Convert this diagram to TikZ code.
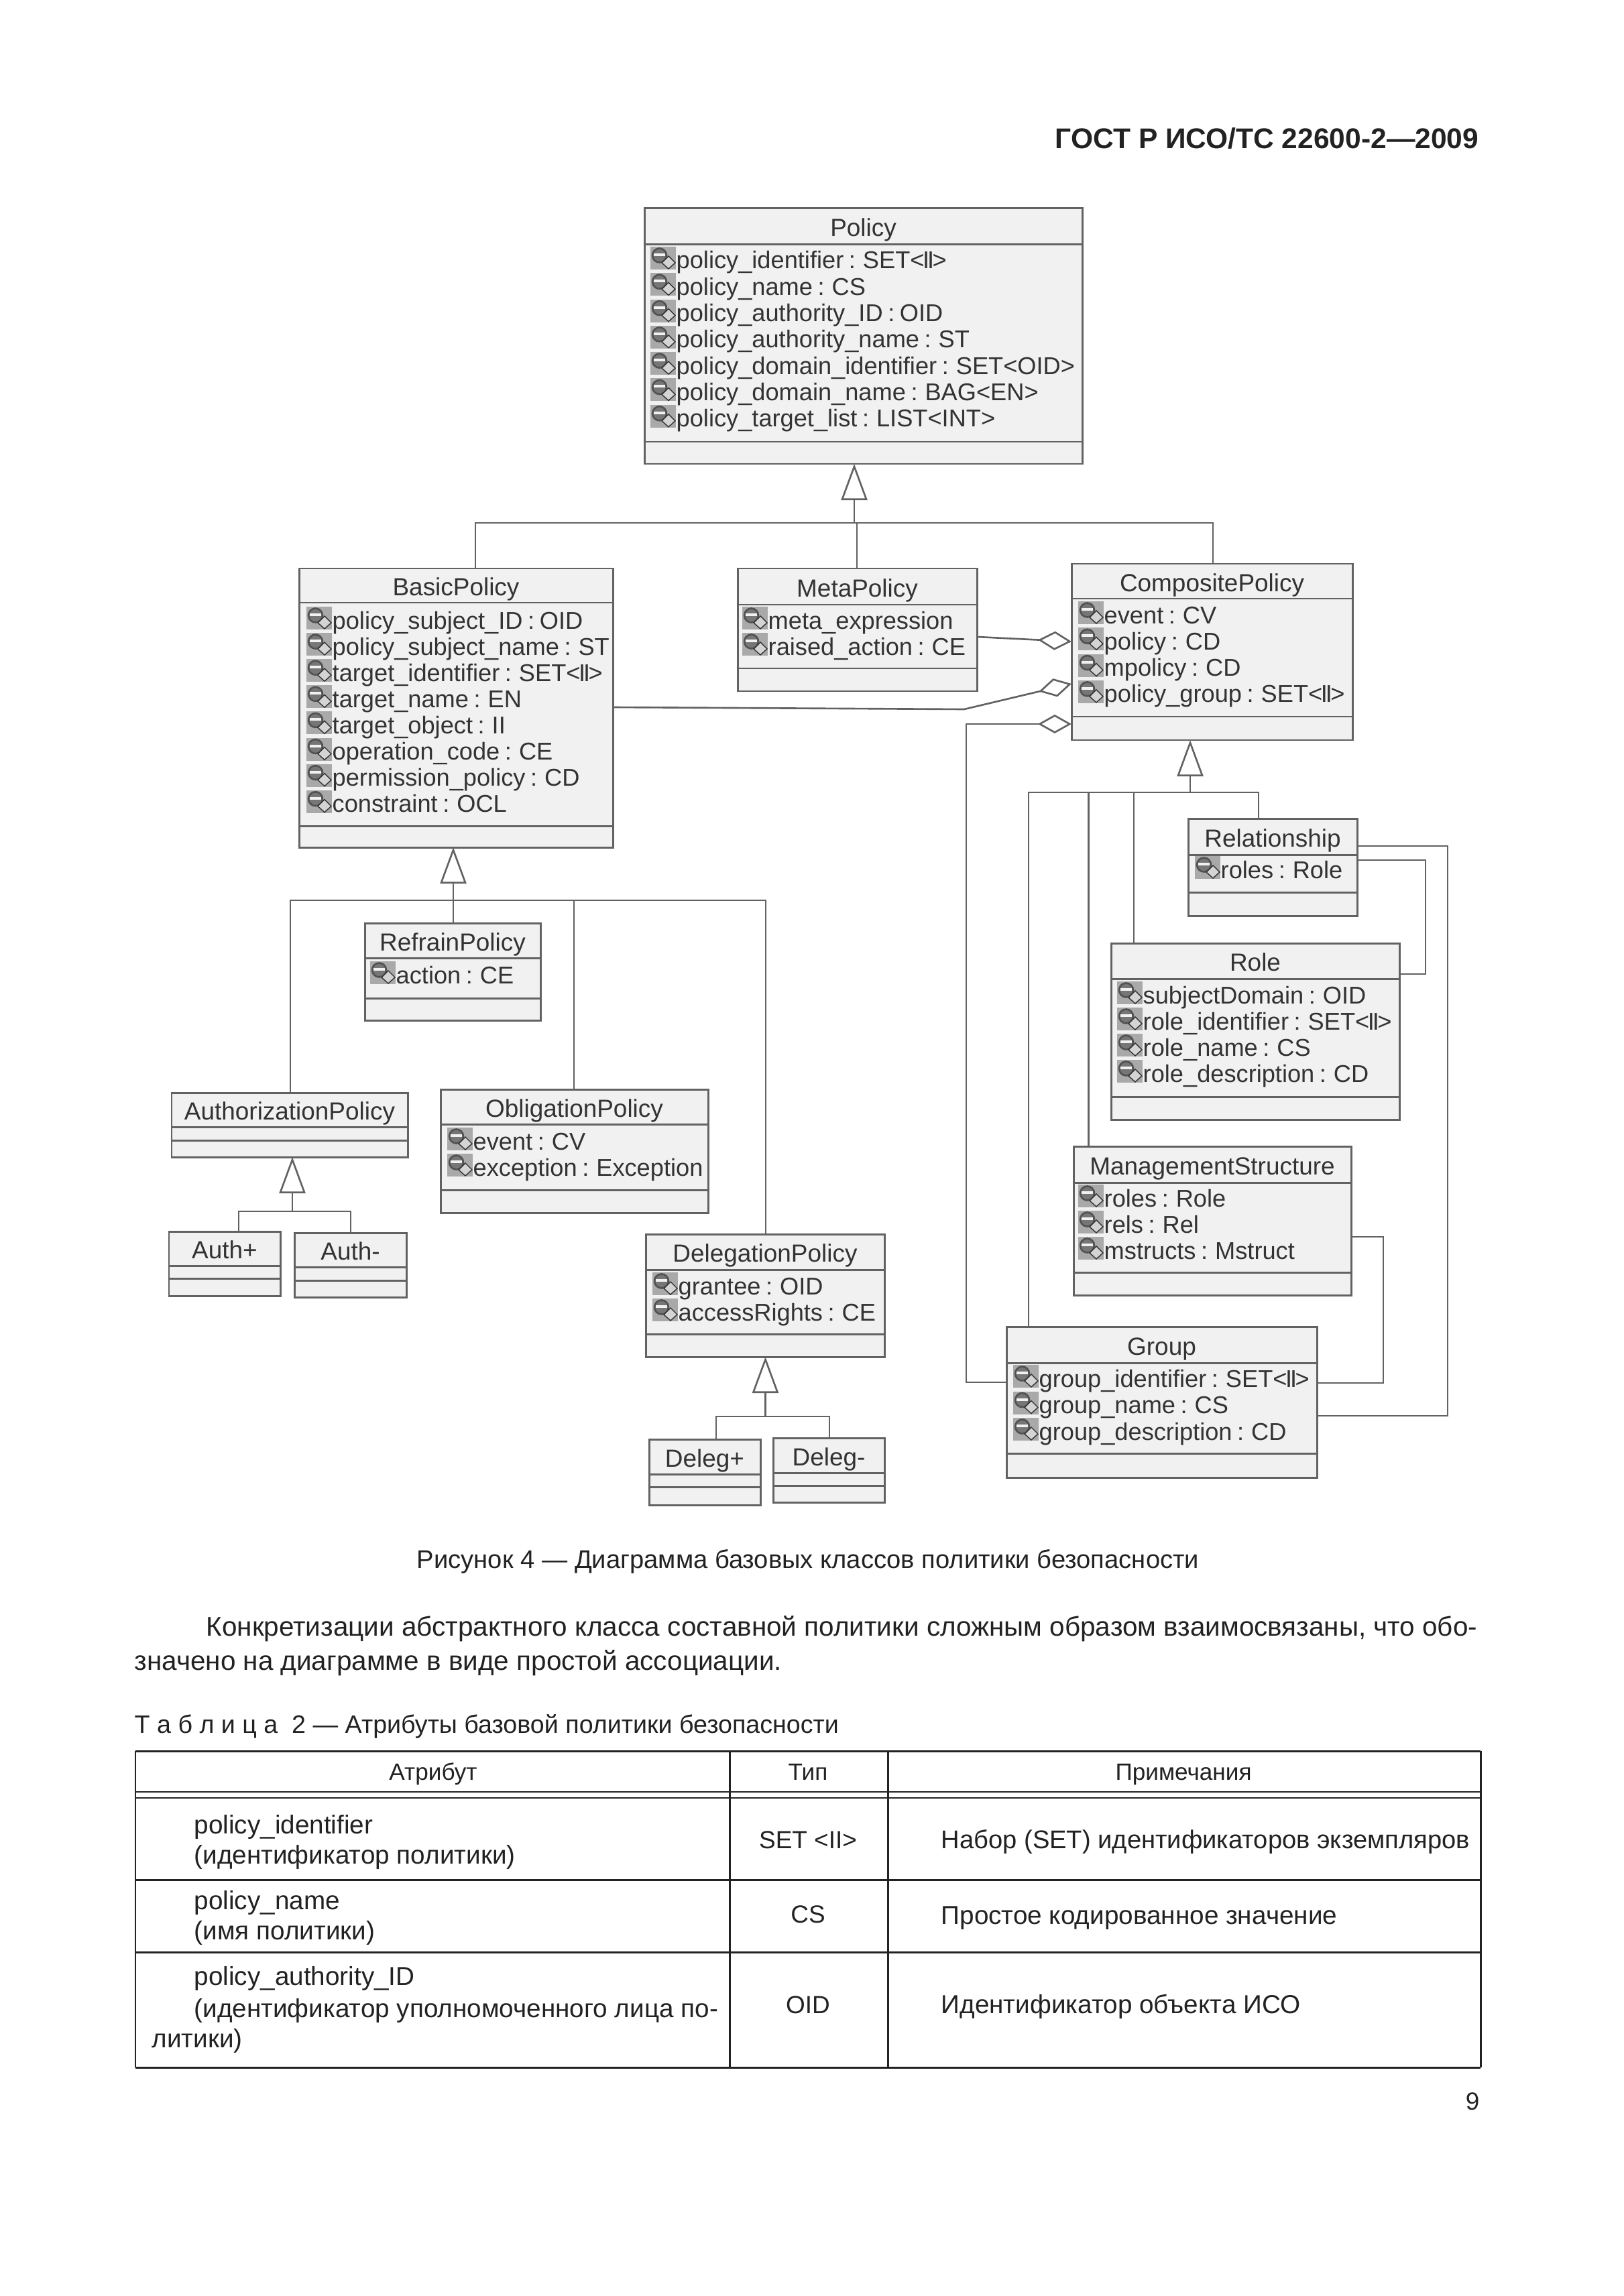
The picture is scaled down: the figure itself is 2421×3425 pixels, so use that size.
\documentclass[tikz,border=0pt]{standalone}
\usepackage{fontspec}
\setmainfont{Liberation Sans}
\usetikzlibrary{arrows.meta,fit}
\definecolor{tline}{HTML}{626262}
\definecolor{tbox}{HTML}{F1F1F1}
\definecolor{tink}{HTML}{333333}
\definecolor{ticon}{HTML}{A9A9A9}
\definecolor{tpage}{HTML}{222222}
\newcommand{\pII}{<\kern-0.7pt I\kern-0.9pt I\kern-0.7pt>}
\newcommand{\tightspace}{\spaceskip=0.21em\relax}
\tikzset{
  classbox/.style={draw=tline, fill=tbox, line width=0.85pt, inner sep=0pt, outer sep=0pt},
  classrule/.style={draw=tline, line width=0.85pt},
  classname/.style={font=\fontsize{10.5}{12}\selectfont, text=tink, anchor=base, inner sep=0pt},
  classattr/.style={font=\fontsize{10.3}{12}\selectfont, text=tink, anchor=base west, inner sep=0pt},
  assoc/.style={draw=tline, line width=0.75pt},
  genline/.style={assoc, -{Triangle[open,length=0.54cm,width=0.39cm]}},
  aggr/.style={assoc, -{Diamond[open,length=0.5cm,width=0.28cm]}},
  pagetext/.style={font=\fontsize{11.5}{14}\selectfont, text=tpage, anchor=base west, inner sep=0pt},
  tabletext/.style={font=\fontsize{11}{14}\selectfont, text=tpage, anchor=base west, inner sep=0pt},
  tablecode/.style={font=\fontsize{10.5}{14}\selectfont, text=tpage, anchor=base, inner sep=0pt},
  tablehead/.style={font=\fontsize{10}{12}\selectfont, text=tpage, anchor=base, inner sep=0pt},
  tablerule/.style={draw=tpage, line width=0.85pt},
  tablethin/.style={draw=tpage, line width=0.5pt},
  lockmark/.pic={
    \fill[ticon] (0,-21) rectangle (38,13);
    \draw[tink!85, line width=0.75pt, fill=ticon!70!black] (13.5,-8) circle [radius=10.5];
    \fill[tbox] (5,-11) rectangle (22,-7);
    \draw[tink, line width=0.4pt, fill=tbox!88!black] (17,3) -- (27,-7) -- (37,3) -- (27,12) -- cycle;
  },
}
% one class: id, x1, y1, x2, y2, name rule, attribute rule, title
\newcommand{\umlclass}[8]{%
  \node[classbox, fit={(#2,#3) (#4,#5)}] (#1) {};
  \draw[classrule] (#1.west |- 0,#6) -- (#1.east |- 0,#6);
  \draw[classrule] (#1.west |- 0,#7) -- (#1.east |- 0,#7);
  \node[classname] (#1-name) at ({(#2+#4)/2},{(#3+#6)/2+15}) {#8};}
% attribute rows: id, icon x, first row y, row step, rows
\newcommand{\classattrs}[5]{%
  \foreach \attr [count=\nn from 0] in {#5} {
    \pic at (#2,{#3+\nn*#4}) {lockmark};
    \node[classattr] (#1-a\nn) at (#2+38,{#3+12+\nn*#4}) {\tightspace\attr};
  }}
\begin{document}
\begin{tikzpicture}[x=0.01cm, y=-0.01cm]
  \useasboundingbox (0,0) rectangle (2421,3425);
  \node[font=\fontsize{12.1}{14}\selectfont\bfseries, text=tpage, anchor=base east, inner sep=0pt] (pagehead) at (2206,222) {ГОСТ Р ИСО/ТС 22600-2---2009};

  % --- classes ---------------------------------------------------------
  \umlclass{policy}{961}{311}{1614}{692}{365}{659}{Policy}
  \classattrs{policy}{970}{389}{39.3}{policy\_identifier : SET\pII,policy\_name : CS,policy\_authority\_ID : OID,policy\_authority\_name : ST,policy\_domain\_identifier : SET<OID>,policy\_domain\_name : BAG<EN>,policy\_target\_list : LIST<INT>}
  \umlclass{basic}{446}{848}{914}{1264}{899}{1232}{BasicPolicy}
  \classattrs{basic}{457}{926}{39.1}{policy\_subject\_ID : OID,policy\_subject\_name : ST,target\_identifier : SET\pII,target\_name : EN,target\_object : II,operation\_code : CE,permission\_policy : CD,constraint : OCL}
  \umlclass{meta}{1100}{848}{1457}{1031}{902}{997}{MetaPolicy}
  \classattrs{meta}{1107}{926}{39}{meta\_expression,raised\_action : CE}
  \umlclass{composite}{1598}{841}{2017}{1104}{893}{1069}{CompositePolicy}
  \classattrs{composite}{1608}{918}{39.3}{event : CV,policy : CD,mpolicy : CD,policy\_group : SET\pII}
  \umlclass{relation}{1772}{1221}{2024}{1366}{1275}{1331}{Relationship}
  \classattrs{relation}{1782}{1298}{39}{roles : Role}
  \umlclass{role}{1657}{1407}{2087}{1670}{1460}{1636}{Role}
  \classattrs{role}{1666}{1485}{39}{subjectDomain : OID,role\_identifier : SET\pII,role\_name : CS,role\_description : CD}
  \umlclass{mgmt}{1601}{1710}{2015}{1932}{1764}{1898}{ManagementStructure}
  \classattrs{mgmt}{1608}{1788}{39}{roles : Role,rels : Rel,mstructs : Mstruct}
  \umlclass{group}{1501}{1979}{1964}{2204}{2033}{2168}{Group}
  \classattrs{group}{1511}{2057}{39.5}{group\_identifier : SET\pII,group\_name : CS,group\_description : CD}
  \umlclass{refrain}{544}{1377}{806}{1522}{1429}{1489}{RefrainPolicy}
  \classattrs{refrain}{552}{1455}{39}{action : CE}
  \umlclass{authz}{256}{1630}{608}{1726}{1681}{1701}{AuthorizationPolicy}
  \umlclass{oblig}{657}{1625}{1056}{1809}{1677}{1775}{ObligationPolicy}
  \classattrs{oblig}{667}{1703}{39}{event : CV,exception : Exception}
  \umlclass{deleg}{963}{1841}{1319}{2024}{1894}{1990}{DelegationPolicy}
  \classattrs{deleg}{973}{1919}{39}{grantee : OID,accessRights : CE}
  \umlclass{authplus}{252}{1837}{418}{1933}{1888}{1907}{Auth+}
  \umlclass{authminus}{439}{1839}{606}{1935}{1890}{1910}{Auth-}
  \umlclass{delegplus}{968}{2147}{1134}{2245}{2199}{2218}{Deleg+}
  \umlclass{delegminus}{1153}{2145}{1319}{2241}{2197}{2216}{Deleg-}

  % --- junctions of the generalisation trees ---------------------------
  \coordinate (jpolicy) at (1274,780);
  \coordinate (jbasic) at (676,1343);
  \coordinate (jcomp) at (1775,1182);
  \coordinate (jauth) at (436,1807);
  \coordinate (jdeleg) at (1141.5,2113);

  % --- generalisation --------------------------------------------------
  \draw[genline] (jpolicy) -- (jpolicy |- policy.south);
  \draw[assoc] (basic.north -| 709,0) -- (709,780) -- (1809,780) -- (composite.north -| 1809,0);
  \draw[assoc] (1278,780) -- (meta.north -| 1278,0);
  \draw[genline] (jbasic) -- (jbasic |- basic.south);
  \draw[assoc] (jbasic) -- (refrain.north -| jbasic);
  \draw[assoc] (authz.north -| 433,0) -- (433,1343) -- (1142,1343) -- (deleg.north -| 1142,0);
  \draw[assoc] (856,1343) -- (oblig.north -| 856,0);
  \draw[genline] (jcomp) -- (jcomp |- composite.south);
  \draw[assoc] (group.north -| 1534,0) -- (1534,1182) -- (1877,1182) -- (relation.north -| 1877,0);
  \draw[assoc, line width=1pt] (1623.5,1182) -- (mgmt.north -| 1623.5,0);
  \draw[assoc] (1691,1182) -- (role.north -| 1691,0);
  \draw[genline] (jauth) -- (jauth |- authz.south);
  \draw[assoc] (authplus.north -| 356,0) |- (jauth);
  \draw[assoc] (jauth) -| (authminus.north -| 523,0);
  \draw[genline] (jdeleg) -- (jdeleg |- deleg.south);
  \draw[assoc] (delegplus.north -| 1068,0) |- (jdeleg);
  \draw[assoc] (jdeleg) -| (delegminus.north -| 1237,0);

  % --- aggregation and plain association -------------------------------
  \draw[aggr] (meta.east |- 0,950) -- (composite.west |- 0,957);
  \draw[aggr] (basic.east |- 0,1055) -- (1438,1058) -- (composite.west |- 0,1020);
  \draw[aggr] (group.west |- 0,2062) -- (1441,2062) -- (1441,1080) -- (composite.west |- 0,1080);
  \draw[assoc] (relation.east |- 0,1262) -- (2159,1262) -- (2159,2112) -- (group.east |- 0,2112);
  \draw[assoc] (relation.east |- 0,1283) -- (2126,1283) -- (2126,1453) -- (role.east |- 0,1453);
  \draw[assoc] (mgmt.east |- 0,1845) -- (2063,1845) -- (2063,2063) -- (group.east |- 0,2063);

  % --- caption and paragraph -------------------------------------------
  \node[pagetext, font=\fontsize{10.85}{14}\selectfont, anchor=base] (figcaption) at (1205,2339) {Рисунок 4 --- Диаграмма базовых классов политики безопасности};
  \node[pagetext] (paraone) at (307,2440) {Конкретизации абстрактного класса составной политики сложным образом взаимосвязаны, что обо-};
  \node[pagetext] (paratwo) at (200,2491) {значено на диаграмме в виде простой ассоциации.};
  \node[pagetext, font=\fontsize{10.7}{14}\selectfont] (tabletitle) at (200,2585) {Т а б л и ц а\ \ 2 --- Атрибуты базовой политики безопасности};

  % --- table -----------------------------------------------------------
  \draw[tablerule] (202,2612) -- (2208,2612);
  \draw[tablerule] (202,2612) -- (202,3084);
  \draw[tablerule] (2208,2612) -- (2208,3084);
  \draw[tablerule] (1088,2612) -- (1088,3084);
  \draw[tablerule] (1324,2612) -- (1324,3084);
  \draw[tablethin] (202,2673) -- (2208,2673);
  \draw[tablethin] (202,2682) -- (2208,2682);
  \draw[tablerule] (202,2804) -- (2208,2804);
  \draw[tablerule] (202,2912) -- (2208,2912);
  \draw[tablerule] (202,3084) -- (2208,3084);
  \node[tablehead] (headattr) at (646,2655) {Атрибут};
  \node[tablehead] (headtype) at (1205,2655) {Тип};
  \node[tablehead] (headnote) at (1765,2655) {Примечания};
  \node[tabletext] (cella) at (289,2735) {policy\_identifier};
  \node[tabletext] (cellb) at (289,2780) {(идентификатор политики)};
  \node[tablecode] (cellc) at (1205,2757) {SET <II>};
  \node[tabletext, font=\fontsize{10.85}{14}\selectfont] (celld) at (1403,2757) {Набор (SET) идентификаторов экземпляров};
  \node[tabletext] (celle) at (289,2848) {policy\_name};
  \node[tabletext] (cellf) at (289,2893) {(имя политики)};
  \node[tablecode] (cellg) at (1205,2868) {CS};
  \node[tabletext] (cellh) at (1403,2870) {Простое кодированное значение};
  \node[tabletext] (celli) at (289,2961) {policy\_authority\_ID};
  \node[tabletext] (cellj) at (289,3009) {(идентификатор уполномоченного лица по-};
  \node[tabletext] (cellk) at (226,3054) {литики)};
  \node[tablecode] (celll) at (1205,3003) {OID};
  \node[tabletext] (cellm) at (1403,3003) {Идентификатор объекта ИСО};
  \node[tablecode] (pagenum) at (2196,3147) {9};
\end{tikzpicture}
\end{document}
